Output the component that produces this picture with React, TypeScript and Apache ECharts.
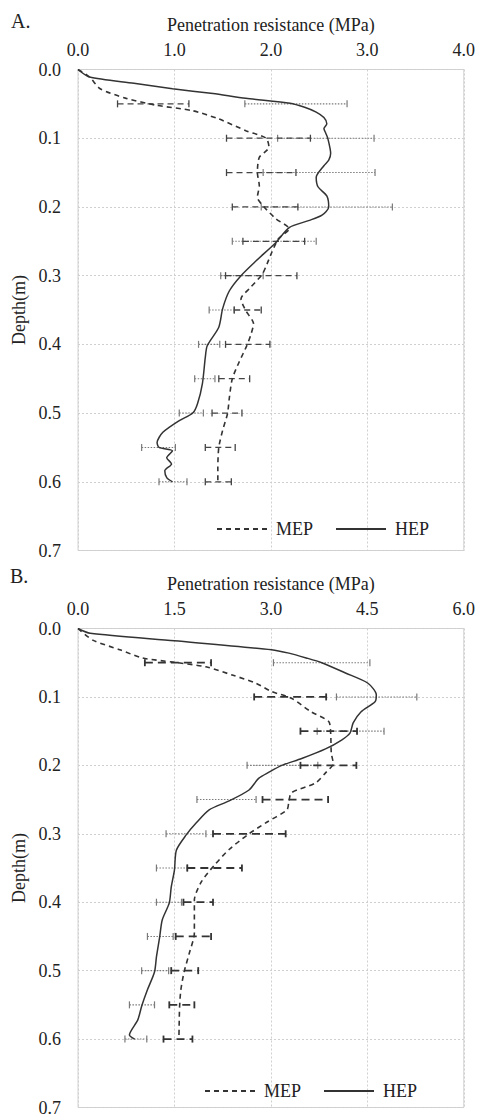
import React, { useEffect, useRef } from "react";
import * as echarts from "echarts";

// ---- Data (value in MPa, depth in m) ----
const mepA: [number, number][] = [
  [0, 0], [0.12, 0.011], [0.23, 0.028], [0.5, 0.042], [0.81, 0.052], [1.19, 0.06], [1.46, 0.072],
  [1.74, 0.089], [1.95, 0.1], [1.98, 0.113], [1.88, 0.128], [1.86, 0.15], [1.88, 0.169], [1.86, 0.186],
  [1.93, 0.2], [2.05, 0.217], [2.19, 0.232], [2.08, 0.246], [2.01, 0.266], [1.96, 0.283], [1.91, 0.298],
  [1.79, 0.317], [1.69, 0.334], [1.74, 0.351], [1.82, 0.37], [1.79, 0.387], [1.75, 0.402], [1.67, 0.426],
  [1.6, 0.45], [1.57, 0.477], [1.55, 0.501], [1.5, 0.525], [1.46, 0.55], [1.45, 0.579], [1.45, 0.598],
];
const hepA: [number, number][] = [
  [0, 0], [0.12, 0.011], [0.58, 0.02], [0.98, 0.028], [1.4, 0.035], [1.74, 0.042], [2.2, 0.049],
  [2.35, 0.055], [2.47, 0.062], [2.55, 0.07], [2.58, 0.079], [2.55, 0.086], [2.57, 0.093], [2.59, 0.1],
  [2.62, 0.122], [2.6, 0.132], [2.55, 0.14], [2.47, 0.157], [2.49, 0.171], [2.58, 0.184], [2.6, 0.2],
  [2.53, 0.212], [2.39, 0.22], [2.19, 0.23], [2.05, 0.252], [1.85, 0.278], [1.69, 0.3], [1.57, 0.322],
  [1.5, 0.348], [1.46, 0.375], [1.34, 0.402], [1.32, 0.419], [1.29, 0.457], [1.24, 0.486], [1.19, 0.5],
  [1.05, 0.511], [0.88, 0.528], [0.82, 0.543], [0.84, 0.55], [0.98, 0.555], [0.92, 0.565], [0.97, 0.574],
  [0.9, 0.584], [0.92, 0.594], [0.98, 0.6],
];
const mepB: [number, number][] = [
  [0, 0], [0.23, 0.017], [0.65, 0.031], [1.0, 0.043], [1.47, 0.049], [1.99, 0.056], [2.4, 0.068],
  [2.77, 0.08], [3.01, 0.092], [3.32, 0.102], [3.63, 0.122], [3.9, 0.136], [3.93, 0.153], [3.94, 0.182],
  [3.97, 0.197], [3.85, 0.211], [3.69, 0.226], [3.32, 0.24], [3.28, 0.253], [3.25, 0.265], [2.92, 0.284],
  [2.63, 0.302], [2.35, 0.323], [2.12, 0.346], [1.92, 0.37], [1.81, 0.397], [1.81, 0.445], [1.73, 0.475],
  [1.65, 0.502], [1.6, 0.528], [1.58, 0.553], [1.57, 0.598],
];
const hepB: [number, number][] = [
  [0, 0], [0.19, 0.007], [1.5, 0.018], [3.01, 0.031], [3.28, 0.036], [3.55, 0.043], [3.79, 0.05],
  [4.16, 0.065], [4.51, 0.08], [4.64, 0.097], [4.62, 0.107], [4.4, 0.122], [4.28, 0.138], [4.23, 0.153],
  [4.1, 0.163], [3.85, 0.176], [3.48, 0.19], [3.17, 0.2], [2.97, 0.21], [2.81, 0.219], [2.66, 0.236],
  [2.35, 0.252], [2.04, 0.265], [1.84, 0.284], [1.68, 0.302], [1.53, 0.324], [1.5, 0.353], [1.45, 0.378],
  [1.42, 0.401], [1.31, 0.426], [1.27, 0.451], [1.22, 0.48], [1.19, 0.502], [1.08, 0.528], [0.99, 0.552],
  [0.93, 0.572], [0.8, 0.594], [0.88, 0.6],
];

// Error bars at these depths
const barDepths = [0.05, 0.1, 0.15, 0.2, 0.25, 0.3, 0.35, 0.4, 0.45, 0.5, 0.55, 0.6];
const hepA_low = [1.73, 2.07, 1.92, 1.9, 1.6, 1.48, 1.36, 1.25, 1.21, 1.05, 0.66, 0.84];
const hepA_high = [2.79, 3.07, 3.08, 3.26, 2.47, 1.92, 1.62, 1.47, 1.42, 1.3, 1.01, 1.13];
const mepA_low = [0.41, 1.54, 1.54, 1.6, 1.71, 1.53, 1.62, 1.53, 1.46, 1.39, 1.32, 1.32];
const mepA_high = [1.15, 2.41, 2.26, 2.28, 2.35, 2.27, 1.9, 1.99, 1.78, 1.7, 1.63, 1.59];
const hepB_low = [3.04, 4.02, 3.72, 2.63, 1.85, 1.37, 1.22, 1.22, 1.08, 0.99, 0.8, 0.73];
const hepB_high = [4.54, 5.27, 4.76, 3.73, 2.77, 1.99, 1.7, 1.61, 1.48, 1.41, 1.19, 1.07];
const mepB_low = [1.04, 2.74, 3.46, 3.46, 2.87, 2.1, 1.7, 1.64, 1.52, 1.45, 1.42, 1.33];
const mepB_high = [2.07, 3.86, 4.34, 4.33, 3.89, 3.23, 2.55, 2.1, 2.07, 1.87, 1.81, 1.78];

const xTicksA = { min: 0, max: 4, interval: 1 };
const xTicksB = { min: 0, max: 6, interval: 1.5 };
const yTicks = { min: 0, max: 0.7, interval: 0.1 };

const FONT = "'Liberation Serif', 'Times New Roman', serif";
const TXT = "#222";

function bars(low: number[], high: number[]) {
  return barDepths.map((d, i) => [d, low[i], high[i]]);
}

function errorSeries(
  data: number[][],
  gi: number,
  stroke: string,
  lw: number,
  dash: number[] | null
) {
  return {
    type: "custom",
    xAxisIndex: gi,
    yAxisIndex: gi,
    encode: { x: [1, 2], y: 0 },
    silent: true,
    z: 1,
    data,
    renderItem: (params: any, api: any) => {
      const d = api.value(0);
      const p1 = api.coord([api.value(1), d]);
      const p2 = api.coord([api.value(2), d]);
      const h = 3.5;
      return {
        type: "group",
        children: [
          {
            type: "line",
            shape: { x1: p1[0], y1: p1[1], x2: p2[0], y2: p2[1] },
            style: { stroke, lineWidth: lw, lineDash: dash || undefined },
          },
          {
            type: "line",
            shape: { x1: p1[0], y1: p1[1] - h, x2: p1[0], y2: p1[1] + h },
            style: { stroke, lineWidth: Math.max(lw, 1.2) },
          },
          {
            type: "line",
            shape: { x1: p2[0], y1: p2[1] - h, x2: p2[0], y2: p2[1] + h },
            style: { stroke, lineWidth: Math.max(lw, 1.2) },
          },
        ],
      };
    },
  };
}

function lineSeries(name: string, data: [number, number][], gi: number, dashed: boolean) {
  return {
    name,
    type: "line",
    xAxisIndex: gi,
    yAxisIndex: gi,
    data,
    showSymbol: false,
    symbol: "none",
    smooth: 0.25,
    z: 3,
    lineStyle: {
      color: "#333",
      width: dashed ? 1.6 : 1.5,
      type: dashed ? [5, 4] : "solid",
    },
    itemStyle: { color: "#333" },
  };
}

function xAxis(gi: number, t: { min: number; max: number; interval: number }) {
  return {
    type: "value",
    gridIndex: gi,
    position: "top",
    min: t.min,
    max: t.max,
    interval: t.interval,
    name: "Penetration resistance (MPa)",
    nameLocation: "middle",
    nameGap: 36,
    nameTextStyle: { fontFamily: FONT, fontSize: 18, color: TXT },
    axisLine: { show: false },
    axisTick: { show: false },
    axisLabel: {
      fontFamily: FONT,
      fontSize: 18,
      color: TXT,
      margin: 11,
      formatter: (v: number) => v.toFixed(1),
    },
    splitLine: { show: true, lineStyle: { color: "#cfcfcf", type: [2, 2], width: 1 } },
  };
}

function yAxis(gi: number) {
  return {
    type: "value",
    gridIndex: gi,
    inverse: true,
    min: yTicks.min,
    max: yTicks.max,
    interval: yTicks.interval,
    name: "Depth(m)",
    nameLocation: "middle",
    nameGap: 47,
    nameRotate: 90,
    nameTextStyle: { fontFamily: FONT, fontSize: 18, color: TXT },
    axisLine: { show: false },
    axisTick: { show: false },
    axisLabel: {
      fontFamily: FONT,
      fontSize: 18,
      color: TXT,
      margin: 17,
      formatter: (v: number) => v.toFixed(1),
    },
    splitLine: { show: true, lineStyle: { color: "#cfcfcf", type: [2, 2], width: 1 } },
  };
}

export default function App() {
  const ref = useRef<HTMLDivElement>(null);
  useEffect(() => {
    document.body.style.margin = "0";
    if (!ref.current) return;
    const chart = echarts.init(ref.current, null, { renderer: "svg" });
    const legendBase = {
      data: ["MEP", "HEP"],
      orient: "horizontal",
      itemWidth: 50,
      itemHeight: 14,
      itemGap: 22,
      itemStyle: { opacity: 0, borderWidth: 0 },
      textStyle: { fontFamily: FONT, fontSize: 18, color: TXT, padding: [0, 0, 0, 4] },
    };
    chart.setOption({
      animation: false,
      backgroundColor: "#fff",
      grid: [
        { left: 78, top: 69.5, width: 388, height: 481, show: true, borderColor: "#d2d2d2", borderWidth: 1 },
        { left: 78, top: 628.5, width: 388, height: 479, show: true, borderColor: "#d2d2d2", borderWidth: 1 },
      ],
      xAxis: [xAxis(0, xTicksA), xAxis(1, xTicksB)],
      yAxis: [yAxis(0), yAxis(1)],
      legend: [
        { ...legendBase, left: 211, top: 515 },
        { ...legendBase, left: 199, top: 1077 },
      ],
      graphic: [
        { type: "text", left: 11, top: 11, style: { text: "A.", fontFamily: FONT, fontSize: 20, fill: TXT } },
        { type: "text", left: 10, top: 566, style: { text: "B.", fontFamily: FONT, fontSize: 20, fill: TXT } },
      ],
      series: [
        errorSeries(bars(hepA_low, hepA_high), 0, "#7a7a7a", 1.1, [1.5, 1.5]),
        errorSeries(bars(mepA_low, mepA_high), 0, "#444", 1.3, [6, 4]),
        errorSeries(bars(hepB_low, hepB_high), 1, "#7a7a7a", 1.1, [1.5, 1.5]),
        errorSeries(bars(mepB_low, mepB_high), 1, "#333", 1.8, [8, 5]),
        lineSeries("MEP", mepA, 0, true),
        lineSeries("HEP", hepA, 0, false),
        lineSeries("MEP", mepB, 1, true),
        lineSeries("HEP", hepB, 1, false),
      ],
    });
    return () => chart.dispose();
  }, []);
  return <div ref={ref} style={{ width: 478, height: 1117 }} />;
}
